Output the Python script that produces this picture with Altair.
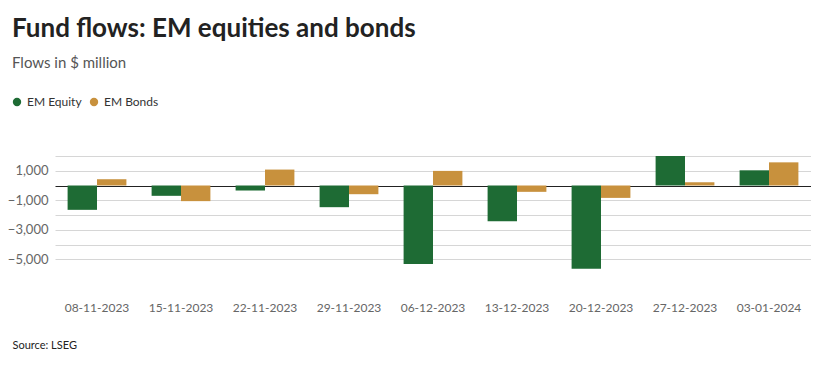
import altair as alt
import pandas as pd

dates = ["08-11-2023", "15-11-2023", "22-11-2023", "29-11-2023", "06-12-2023",
         "13-12-2023", "20-12-2023", "27-12-2023", "03-01-2024"]
equity = [-1650, -700, -340, -1470, -5320, -2430, -5650, 2000, 1030]
bonds = [425, -1060, 1080, -590, 990, -430, -840, 220, 1570]
series = ["EM Equity", "EM Bonds"]
colors = ["#1e6b34", "#c8913d"]
grid_values = [-5000, -4000, -3000, -2000, -1000, 0, 1000, 2000]

rows = []
for d, e, b in zip(dates, equity, bonds):
    rows.append({"date": d, "series": "EM Equity", "value": e})
    rows.append({"date": d, "series": "EM Bonds", "value": b})
df = pd.DataFrame(rows)

FONT = "Lato"

yscale = alt.Scale(domain=[-6000, 2000], nice=False, zero=False)

chart = alt.Chart(df).mark_bar().encode(
    x=alt.X("date:N", sort=dates,
            scale=alt.Scale(paddingInner=0.3, paddingOuter=0.15),
            axis=alt.Axis(title="Source: LSEG", labelAngle=0, labelFontSize=12,
                          labelColor="#666666", labelPadding=28, ticks=False,
                          domain=False, grid=False, labelFont=FONT,
                          titleFont=FONT, titleFontSize=11, titleFontWeight="normal",
                          titleColor="#222222", titleAnchor="start", titleAlign="left",
                          titleX=-43, titleY=71, titleBaseline="middle")),
    xOffset=alt.XOffset("series:N", scale=alt.Scale(domain=series)),
    y=alt.Y("value:Q", scale=yscale,
            axis=alt.Axis(title=None, values=grid_values,
                          labelExpr="datum.value % 2000 != 0 ? replace(format(datum.value, ','), '-', '\u2212') : ''",
                          labelOverlap=False,
                          labelFontSize=13, labelColor="#666666", labelFont=FONT,
                          ticks=False, domain=False,
                          gridColor=alt.condition("datum.value === 0",
                                                  alt.value("#222222"),
                                                  alt.value("#d6d6d6")),
                          labelPadding=7)),
    color=alt.Color("series:N", scale=alt.Scale(domain=series, range=colors),
                    legend=alt.Legend(title=None, orient="none", direction="horizontal",
                                      legendX=-44, legendY=-60, symbolType="circle",
                                      symbolSize=70, labelFontSize=12, labelFont=FONT,
                                      labelColor="#333333", columnPadding=6,
                                      symbolOffset=0)),
).properties(
    width=756, height=118,
    title=alt.TitleParams(
        text="Fund flows: EM equities and bonds",
        subtitle="Flows in $ million",
        anchor="start", frame="group", dx=-43, offset=25,
        font=FONT, fontSize=26, fontWeight="bold", color="#222222",
        subtitleFont=FONT, subtitleFontSize=15, subtitleColor="#555555",
        subtitlePadding=14,
    ),
    autosize=alt.AutoSizeParams(type="none"),
    padding={"left": 47, "top": 148, "right": 0, "bottom": 76},
).configure_view(stroke=None)

chart.save("out.html", embed_options={"renderer": "svg", "actions": False})
